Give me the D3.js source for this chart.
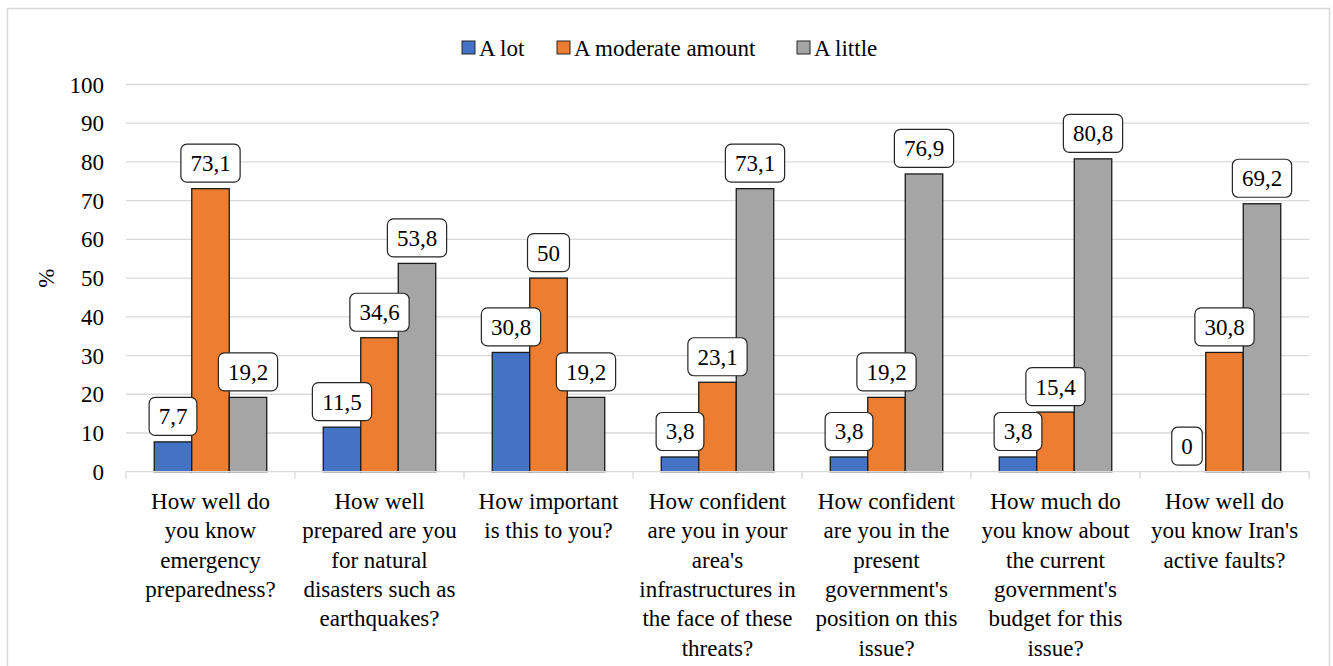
<!DOCTYPE html>
<html>
<head>
<meta charset="utf-8">
<script src="https://cdn.jsdelivr.net/npm/d3@7"></script>
<style>
  body { margin: 0; background: #fff; }
  svg text, svg tspan { font-family: "Liberation Serif", "Times New Roman", Tinos, serif !important; }
</style>
</head>
<body>
<script>
//chart data
var categories = [
    ["How well do", "you know", "emergency", "preparedness?"],
    ["How well", "prepared are you", "for natural", "disasters such as", "earthquakes?"],
    ["How important", "is this to you?"],
    ["How confident", "are you in your", "area's", "infrastructures in", "the face of these", "threats?"],
    ["How confident", "are you in the", "present", "government's", "position on this", "issue?"],
    ["How much do", "you know about", "the current", "government's", "budget for this", "issue?"],
    ["How well do", "you know Iran's", "active faults?"]
];
var seriesNames = ["A lot", "A moderate amount", "A little"];
var aLot = [7.7, 11.5, 30.8, 3.8, 3.8, 3.8, 0];
var aModerate = [73.1, 34.6, 50, 23.1, 19.2, 15.4, 30.8];
var aLittle = [19.2, 53.8, 19.2, 73.1, 76.9, 80.8, 69.2];
var yTicks = [0, 10, 20, 30, 40, 50, 60, 70, 80, 90, 100];
var colors = ["#4472C4", "#ED7D31", "#A5A5A5"];

var font = "'Liberation Serif', 'Times New Roman', Tinos, serif";
var fontSize = 23;

drawChart();

//re-apply the serif face once the chart is in place
setTimeout(function(){
    d3.selectAll('text, tspan')
        .style('font-family', font, 'important')
        .attr('font-family', font);
}, 0);

function drawChart(){

    var width = 1333,
        height = 666;

    var svg = d3.select('body')
        .append('svg')
        .attr('width', width)
        .attr('height', height)
        .attr('font-family', font)
        .attr('font-size', fontSize);

    //outer frame
    svg.append('rect')
        .attr('x', 7.5)
        .attr('y', 8.5)
        .attr('width', 1322)
        .attr('height', 670)
        .attr('fill', 'none')
        .attr('stroke', '#d9d9d9')
        .attr('stroke-width', 1.5);

    var left = 126, right = 1309, top = 84.5, bottom = 471.7;

    var x = d3.scaleBand()
        .domain(d3.range(categories.length))
        .range([left, right]);

    var xs = d3.scaleBand()
        .domain(d3.range(seriesNames.length))
        .range([0, x.bandwidth()])
        .paddingOuter(0.5 * 56.5 / 37.5);

    var y = d3.scaleLinear()
        .domain([0, 100])
        .range([bottom, top]);

    //gridlines
    svg.append('g')
        .selectAll('line')
        .data(yTicks.filter(function(d){ return d > 0; }))
        .enter()
        .append('line')
        .attr('x1', left)
        .attr('x2', right)
        .attr('y1', function(d){ return y(d); })
        .attr('y2', function(d){ return y(d); })
        .attr('stroke', '#d9d9d9')
        .attr('stroke-width', 1.3);

    //y axis labels
    svg.append('g')
        .selectAll('text')
        .data(yTicks)
        .enter()
        .append('text')
        .attr('x', 104)
        .attr('y', function(d){ return y(d); })
        .attr('dy', '0.35em')
        .attr('text-anchor', 'end')
        .attr('font-family', font)
        .text(function(d){ return d; });

    svg.append('text')
        .attr('transform', 'translate(54,' + ((top + bottom) / 2) + ') rotate(-90)')
        .attr('text-anchor', 'middle')
        .attr('font-family', font)
        .text('%');

    //bars
    var series = [aLot, aModerate, aLittle];
    var barData = [];
    series.forEach(function(vals, s){
        vals.forEach(function(v, i){
            barData.push({s: s, i: i, v: v});
        });
    });

    svg.append('g')
        .selectAll('rect')
        .data(barData.filter(function(d){ return d.v > 0; }))
        .enter()
        .append('rect')
        .attr('x', function(d){ return x(d.i) + xs(d.s); })
        .attr('y', function(d){ return y(d.v); })
        .attr('width', xs.bandwidth())
        .attr('height', function(d){ return bottom - y(d.v); })
        .attr('fill', function(d){ return colors[d.s]; })
        .attr('stroke', '#1a1a1a')
        .attr('stroke-width', 1.3);

    //x axis line and ticks
    var axis = svg.append('g').attr('stroke', '#d9d9d9').attr('stroke-width', 1.3);
    axis.append('line')
        .attr('x1', left).attr('x2', right)
        .attr('y1', bottom).attr('y2', bottom);
    axis.selectAll('.tick')
        .data(d3.range(categories.length + 1))
        .enter()
        .append('line')
        .attr('x1', function(d){ return left + d * x.bandwidth(); })
        .attr('x2', function(d){ return left + d * x.bandwidth(); })
        .attr('y1', bottom)
        .attr('y2', bottom + 7);

    //category labels
    svg.append('g')
        .selectAll('text')
        .data(categories)
        .enter()
        .append('text')
        .attr('text-anchor', 'middle')
        .attr('font-family', font)
        .each(function(lines, i){
            var t = d3.select(this);
            lines.forEach(function(line, k){
                t.append('tspan')
                    .attr('x', x(i) + x.bandwidth() / 2)
                    .attr('y', 509 + k * 29.3)
                    .text(line);
            });
        });

    //data labels with rounded boxes (width from glyph count: digits 0.5em, comma 0.25em)
    var labels = svg.append('g')
        .selectAll('g')
        .data(barData)
        .enter()
        .append('g');

    labels.each(function(d){
        var g = d3.select(this);
        var label = String(d.v).replace('.', ',');
        var cx = x(d.i) + xs(d.s) + xs.bandwidth() / 2;
        var boxBottom = y(d.v) - 6.5;
        var em = 0;
        label.split('').forEach(function(c){ em += (c === ',') ? 0.25 : 0.5; });
        var w = em * fontSize + 19;
        g.append('rect')
            .attr('x', cx - w / 2)
            .attr('y', boxBottom - 38)
            .attr('width', w)
            .attr('height', 38)
            .attr('rx', 6)
            .attr('fill', '#fff')
            .attr('stroke', '#262626')
            .attr('stroke-width', 1.2);
        g.append('text')
            .attr('x', cx)
            .attr('y', boxBottom - 11)
            .attr('text-anchor', 'middle')
            .attr('font-family', font)
            .text(label);
    });

    //legend
    var legendX = [462, 557, 797];
    var legend = svg.append('g')
        .selectAll('g')
        .data(seriesNames)
        .enter()
        .append('g');

    legend.append('rect')
        .attr('x', function(d, i){ return legendX[i]; })
        .attr('y', 41)
        .attr('width', 13)
        .attr('height', 13)
        .attr('fill', function(d, i){ return colors[i]; })
        .attr('stroke', '#262626')
        .attr('stroke-width', 1);

    legend.append('text')
        .attr('x', function(d, i){ return legendX[i] + 17; })
        .attr('y', 56)
        .attr('font-family', font)
        .text(function(d){ return d; });
}
</script>
</body>
</html>
